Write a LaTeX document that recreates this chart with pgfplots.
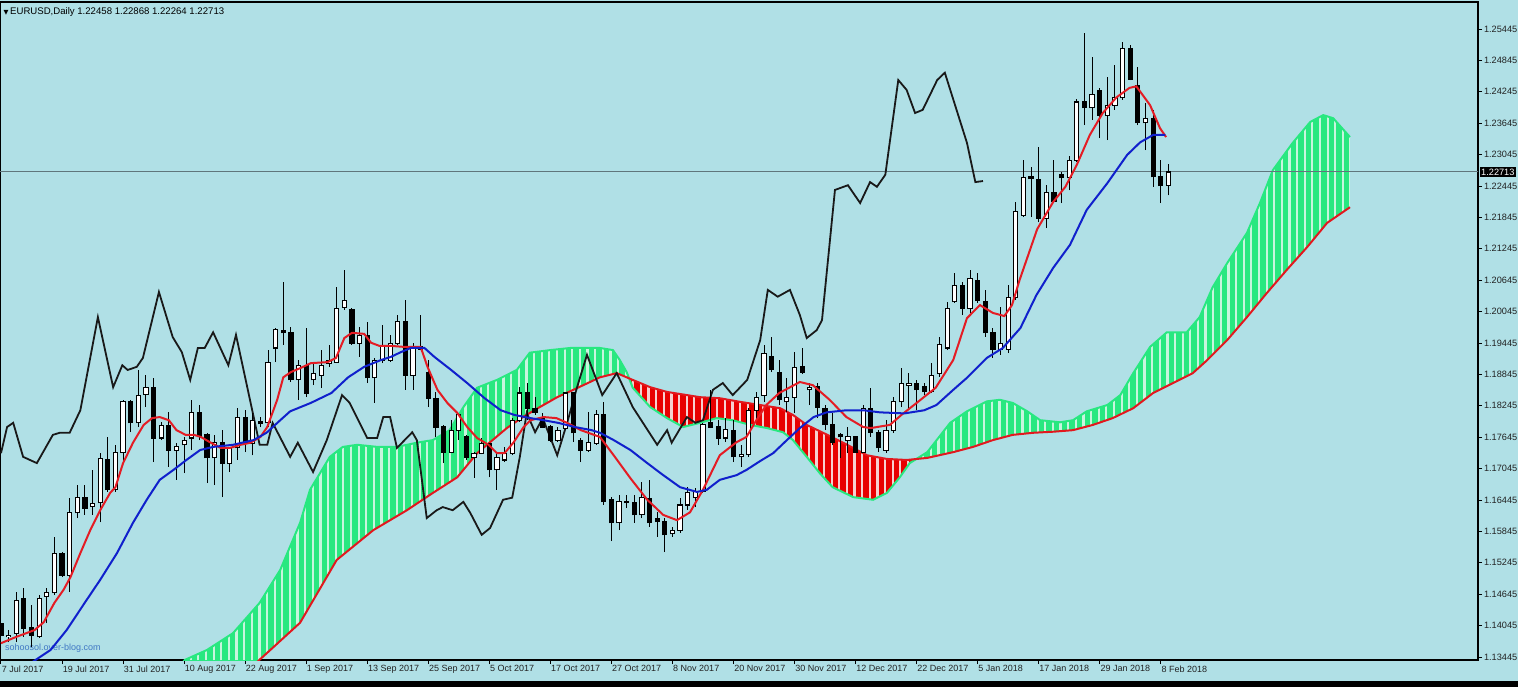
\documentclass[border=0pt]{standalone}
\usepackage{pgfplots}
\pgfplotsset{compat=1.18}
\usepackage{pgfplotstable}
\usepgfplotslibrary{fillbetween}
\usetikzlibrary{patterns.meta}
\usepackage{fontspec}
\setmainfont{Liberation Sans}
\newfontfamily\symfont{DejaVu Sans}

\definecolor{bgblue}{RGB}{176,224,230}
\definecolor{tenkan}{RGB}{228,28,36}
\definecolor{kijun}{RGB}{16,32,204}
\definecolor{kumogreen}{RGB}{40,232,128}
\definecolor{kumogreenpale}{RGB}{200,245,222}
\definecolor{kumored}{RGB}{232,0,0}
\definecolor{kumoredpale}{RGB}{246,208,208}
\definecolor{spanb}{RGB}{226,24,30}
\definecolor{priceline}{RGB}{96,118,124}
\definecolor{labelgray}{RGB}{34,34,34}
\definecolor{wmblue}{RGB}{64,120,196}
\pagecolor{bgblue}

% daily candles, bar 0 = 7 Jul 2017
\pgfplotstableread{
i O H L C
0 1.1409 1.1459 1.1377 1.1386
1 1.1383 1.1396 1.1373 1.1386
2 1.1390 1.1469 1.1373 1.1453
3 1.1457 1.1476 1.1383 1.1400
4 1.1400 1.1444 1.1364 1.1386
5 1.1383 1.1463 1.1381 1.1457
6 1.1461 1.1476 1.1409 1.1467
7 1.1467 1.1574 1.1463 1.1543
8 1.1543 1.1545 1.1497 1.1501
9 1.1501 1.1648 1.1469 1.1620
10 1.1620 1.1673 1.1610 1.1650
11 1.1650 1.1673 1.1616 1.1629
12 1.1633 1.1702 1.1616 1.1637
13 1.1639 1.1734 1.1602 1.1723
14 1.1721 1.1765 1.1660 1.1664
15 1.1664 1.1750 1.1660 1.1736
16 1.1736 1.1836 1.1715 1.1832
17 1.1832 1.1836 1.1774 1.1792
18 1.1792 1.1893 1.1784 1.1845
19 1.1847 1.1883 1.1822 1.1859
20 1.1859 1.1878 1.1717 1.1763
21 1.1763 1.1794 1.1759 1.1786
22 1.1786 1.1813 1.1708 1.1740
23 1.1740 1.1753 1.1683 1.1746
24 1.1750 1.1765 1.1696 1.1759
25 1.1763 1.1836 1.1740 1.1811
26 1.1811 1.1826 1.1759 1.1765
27 1.1769 1.1773 1.1677 1.1725
28 1.1725 1.1769 1.1673 1.1755
29 1.1755 1.1778 1.1650 1.1715
30 1.1715 1.1746 1.1698 1.1744
31 1.1744 1.1820 1.1721 1.1803
32 1.1803 1.1816 1.1736 1.1753
33 1.1753 1.1811 1.1730 1.1797
34 1.1794 1.1803 1.1784 1.1790
35 1.1792 1.1931 1.1784 1.1908
36 1.1935 1.1973 1.1908 1.1971
37 1.1969 1.2061 1.1941 1.1964
38 1.1964 1.1975 1.1870 1.1874
39 1.1874 1.1912 1.1836 1.1901
40 1.1901 1.1973 1.1841 1.1849
41 1.1874 1.1906 1.1864 1.1887
42 1.1883 1.1931 1.1859 1.1902
43 1.1906 1.1941 1.1899 1.1912
44 1.1908 1.2052 1.1906 1.2011
45 1.2013 1.2084 1.2008 1.2025
46 1.2008 1.2011 1.1941 1.1944
47 1.1944 1.1975 1.1918 1.1958
48 1.1958 1.1985 1.1868 1.1878
49 1.1878 1.1916 1.1830 1.1912
50 1.1912 1.1979 1.1906 1.1937
51 1.1912 1.1960 1.1908 1.1944
52 1.1944 1.1998 1.1941 1.1985
53 1.1985 1.2027 1.1855 1.1883
54 1.1883 1.1944 1.1855 1.1935
55 1.1933 1.1998 1.1931 1.1937
56 1.1889 1.1912 1.1822 1.1839
57 1.1839 1.1851 1.1765 1.1784
58 1.1784 1.1788 1.1715 1.1736
59 1.1736 1.1797 1.1734 1.1778
60 1.1778 1.1811 1.1759 1.1807
61 1.1765 1.1769 1.1721 1.1725
62 1.1725 1.1736 1.1687 1.1734
63 1.1734 1.1763 1.1732 1.1752
64 1.1752 1.1753 1.1688 1.1702
65 1.1702 1.1734 1.1664 1.1725
66 1.1721 1.1746 1.1717 1.1734
67 1.1734 1.1801 1.1730 1.1797
68 1.1797 1.1861 1.1794 1.1849
69 1.1849 1.1868 1.1797 1.1820
70 1.1820 1.1841 1.1807 1.1811
71 1.1803 1.1811 1.1782 1.1784
72 1.1784 1.1788 1.1755 1.1759
73 1.1759 1.1784 1.1755 1.1778
74 1.1782 1.1851 1.1778 1.1849
75 1.1849 1.1851 1.1755 1.1773
76 1.1759 1.1763 1.1717 1.1740
77 1.1740 1.1813 1.1736 1.1755
78 1.1753 1.1816 1.1750 1.1807
79 1.1807 1.1832 1.1635 1.1641
80 1.1645 1.1650 1.1566 1.1601
81 1.1601 1.1654 1.1587 1.1641
82 1.1641 1.1654 1.1629 1.1639
83 1.1639 1.1654 1.1601 1.1616
84 1.1616 1.1679 1.1610 1.1650
85 1.1648 1.1683 1.1593 1.1601
86 1.1610 1.1622 1.1574 1.1603
87 1.1603 1.1610 1.1545 1.1578
88 1.1580 1.1593 1.1574 1.1587
89 1.1587 1.1648 1.1582 1.1635
90 1.1635 1.1669 1.1625 1.1658
91 1.1650 1.1667 1.1631 1.1660
92 1.1660 1.1792 1.1658 1.1788
93 1.1792 1.1855 1.1782 1.1784
94 1.1784 1.1797 1.1750 1.1763
95 1.1763 1.1801 1.1755 1.1780
96 1.1778 1.1797 1.1717 1.1727
97 1.1727 1.1750 1.1708 1.1732
98 1.1732 1.1820 1.1727 1.1816
99 1.1816 1.1851 1.1794 1.1841
100 1.1845 1.1941 1.1832 1.1925
101 1.1918 1.1956 1.1889 1.1893
102 1.1889 1.1912 1.1826 1.1836
103 1.1832 1.1878 1.1813 1.1841
104 1.1841 1.1927 1.1811 1.1897
105 1.1899 1.1935 1.1885 1.1889
106 1.1855 1.1868 1.1826 1.1859
107 1.1861 1.1868 1.1801 1.1822
108 1.1820 1.1826 1.1778 1.1788
109 1.1788 1.1811 1.1750 1.1755
110 1.1769 1.1773 1.1725 1.1765
111 1.1759 1.1784 1.1734 1.1765
112 1.1765 1.1767 1.1734 1.1736
113 1.1736 1.1826 1.1734 1.1820
114 1.1820 1.1859 1.1765 1.1774
115 1.1774 1.1778 1.1736 1.1744
116 1.1740 1.1797 1.1734 1.1778
117 1.1778 1.1841 1.1773 1.1832
118 1.1832 1.1897 1.1822 1.1868
119 1.1864 1.1887 1.1816 1.1868
120 1.1868 1.1874 1.1816 1.1855
121 1.1862 1.1868 1.1845 1.1851
122 1.1851 1.1906 1.1849 1.1883
123 1.1887 1.1956 1.1880 1.1941
124 1.1935 1.2023 1.1931 1.2011
125 1.2023 1.2078 1.2021 1.2054
126 1.2054 1.2061 1.1998 1.2011
127 1.2011 1.2084 1.2002 1.2067
128 1.2063 1.2078 1.2021 1.2025
129 1.2023 1.2046 1.1956 1.1964
130 1.1964 1.1973 1.1916 1.1933
131 1.1933 1.2013 1.1922 1.1944
132 1.1933 1.2055 1.1925 1.2031
133 1.2031 1.2214 1.2027 1.2195
134 1.2189 1.2294 1.2185 1.2260
135 1.2262 1.2281 1.2185 1.2258
136 1.2256 1.2319 1.2175 1.2183
137 1.2183 1.2246 1.2164 1.2233
138 1.2233 1.2294 1.2212 1.2214
139 1.2267 1.2271 1.2212 1.2260
140 1.2260 1.2302 1.2236 1.2294
141 1.2294 1.2410 1.2290 1.2405
142 1.2405 1.2537 1.2361 1.2394
143 1.2394 1.2491 1.2371 1.2420
144 1.2426 1.2432 1.2336 1.2380
145 1.2380 1.2453 1.2332 1.2399
146 1.2399 1.2476 1.2390 1.2413
147 1.2413 1.2520 1.2409 1.2508
148 1.2508 1.2514 1.2447 1.2449
149 1.2436 1.2472 1.2361 1.2365
150 1.2365 1.2403 1.2313 1.2374
151 1.2373 1.2390 1.2243 1.2262
152 1.2262 1.2294 1.2212 1.2245
153 1.22458 1.22868 1.22264 1.22713
}\candles

% Tenkan-sen (red)
\pgfplotstableread{
i v
0 1.1371
2 1.1383
4.4 1.1396
5.6 1.1411
7 1.1448
8.2 1.1473
9.1 1.1497
10.4 1.1543
11.7 1.1587
13 1.1625
14.3 1.1658
15 1.1669
16 1.1715
17.3 1.1754
18.7 1.1788
19.8 1.1801
20.8 1.1803
22 1.1797
23 1.1778
24.2 1.1769
25.3 1.1769
26.2 1.1765
27.5 1.1754
28.8 1.1744
30 1.1744
31.4 1.1750
32.7 1.1754
34 1.1765
34.9 1.1784
36.2 1.1836
37 1.1879
38 1.1889
39.3 1.1897
40.6 1.1906
42.8 1.1908
43.9 1.1916
45 1.1954
46 1.1964
47.6 1.1962
48.5 1.1945
49.6 1.1939
51.1 1.1939
52.9 1.1937
55 1.1937
55.9 1.1899
57.2 1.1855
58.5 1.1830
59.8 1.1811
61.1 1.1784
62.4 1.1763
63.9 1.1750
65 1.1734
66 1.1734
67.2 1.1755
68.5 1.1784
69.4 1.1797
71.1 1.1803
72.8 1.1801
74.2 1.1792
76 1.1778
78.5 1.1765
80.3 1.1730
82.5 1.1686
84.7 1.1645
86.8 1.1616
88.6 1.1606
90.3 1.1621
92 1.1664
94.2 1.1730
96.4 1.1755
97.7 1.1765
99 1.1797
100.3 1.1826
102 1.1849
104.7 1.1870
106.4 1.1864
108.6 1.1836
110.8 1.1803
113 1.1784
114 1.1782
116.5 1.1788
118 1.1807
120 1.1830
122.5 1.1859
124.8 1.1912
126.6 1.1992
128.3 1.2017
130 1.2002
131.5 1.1996
132.5 1.2017
133.5 1.2065
135.8 1.2162
137.9 1.2214
139.5 1.2243
141 1.2285
142.7 1.2342
144.4 1.2384
146.2 1.2414
147.9 1.2432
148.8 1.2435
150.6 1.2399
151.9 1.2355
152.7 1.2338
}\tenkan

% Kijun-sen (blue)
\pgfplotstableread{
i v
3 1.1324
6.5 1.1358
8.6 1.1396
11.2 1.1453
13 1.1492
15.2 1.1543
17.3 1.1601
19.1 1.1645
20.8 1.1683
22.6 1.1702
24.3 1.1721
26.1 1.1740
27.8 1.1746
30.4 1.1750
33.1 1.1759
34.8 1.1773
36.6 1.1797
37.9 1.1814
40.6 1.1830
43.3 1.1849
45.5 1.1879
47.6 1.1899
49.8 1.1912
51.1 1.1918
52.4 1.1927
53.7 1.1935
55.5 1.1935
56.8 1.1918
59 1.1893
61.1 1.1868
63.3 1.1840
65.5 1.1816
67.3 1.1807
69.4 1.1801
71.1 1.1797
73 1.1792
75.2 1.1784
77.4 1.1778
78.5 1.1773
80.3 1.1759
82.5 1.1740
84.7 1.1715
86.8 1.1692
89 1.1669
91.2 1.1660
92.5 1.1664
94.2 1.1683
96.4 1.1692
97.7 1.1702
99.5 1.1719
101.2 1.1734
103 1.1759
104.7 1.1782
106.5 1.1803
108.2 1.1812
110.8 1.1816
113 1.1816
115.2 1.1812
118.4 1.1810
121 1.1816
122.6 1.1826
124.8 1.1855
126.6 1.1878
129.2 1.1916
131.3 1.1935
132.2 1.1950
133.6 1.1973
135.7 1.2036
137.9 1.2088
140.1 1.2132
142.3 1.2199
145 1.2250
147.6 1.2304
149.3 1.2328
151 1.2342
152.6 1.2342
}\kijun

% Senkou span A (green edge of the cloud)
\pgfplotstableread{
i v
22 1.1301
24.1 1.1339
27 1.1358
30.4 1.1390
33.9 1.1448
36.6 1.1511
39.2 1.1601
40.5 1.1664
43.1 1.1727
44.8 1.1746
46.7 1.1750
49.3 1.1746
51.9 1.1746
54.5 1.1754
56.6 1.1759
58.8 1.1778
60.6 1.1822
62.4 1.1859
65 1.1874
67.6 1.1893
69.3 1.1926
72 1.1931
74.6 1.1935
77.2 1.1935
78.5 1.1935
80.2 1.1931
81.1 1.1912
82 1.1889
82.8 1.1859
85.1 1.1822
87.3 1.1801
89.4 1.1784
91.6 1.1792
93.8 1.1801
95.9 1.1797
98.2 1.1788
100.4 1.1782
102.5 1.1774
103.8 1.1759
105.6 1.1727
107.3 1.1696
109 1.1669
111.7 1.1650
114.3 1.1645
116.1 1.1658
117.8 1.1688
119.1 1.1715
121.4 1.1736
124.4 1.1792
126.6 1.1814
129.2 1.1833
130.9 1.1836
132.6 1.1830
134.5 1.1814
136.2 1.1797
138.8 1.1793
140.5 1.1797
142.3 1.1814
145 1.1826
146.7 1.1845
148.4 1.1887
150.6 1.1937
152.8 1.1965
155.4 1.1965
157.1 1.1994
158.8 1.2051
160.7 1.2097
163.3 1.2155
165 1.2212
166.7 1.2275
169.3 1.2327
171.6 1.2367
173.3 1.2380
174.6 1.2374
176.8 1.2338
}\spanA

% Senkou span B (red edge of the cloud)
\pgfplotstableread{
i v
31 1.1301
35.3 1.1358
39.2 1.1410
44 1.1530
48.8 1.1587
53.2 1.1625
56.6 1.1658
59.8 1.1688
62.4 1.1734
64.1 1.1755
66.3 1.1782
68.4 1.1803
70.6 1.1822
72.9 1.1841
75 1.1855
77.2 1.1870
78.5 1.1879
80.7 1.1887
82.8 1.1874
85.1 1.1860
87.3 1.1851
89.9 1.1845
91.6 1.1841
94.2 1.1839
96.9 1.1832
99.5 1.1826
102.1 1.1820
103.8 1.1807
105.6 1.1788
108.3 1.1769
110.9 1.1750
113.5 1.1730
116.1 1.1723
118.7 1.1721
121.4 1.1725
124.8 1.1736
127.4 1.1746
130 1.1759
132.6 1.1769
135.3 1.1773
137.9 1.1775
140.5 1.1778
143.1 1.1788
145.7 1.1801
148.4 1.1820
151 1.1849
153.6 1.1868
156.2 1.1887
158.1 1.1912
160.7 1.1950
163.3 1.1994
165.9 1.2040
168.5 1.2084
171.2 1.2128
173.8 1.2174
175.9 1.2195
176.8 1.2204
}\spanB

% Chikou span (black)
\pgfplotstableread{
i v
0 1.1734
0.8 1.1784
1.6 1.1792
2.9 1.1727
4.7 1.1715
6.8 1.1769
7.7 1.1773
9.0 1.1773
10.4 1.1816
12.7 1.1994
14.7 1.1860
15.9 1.1902
16.6 1.1893
17.8 1.1899
18.6 1.1916
20.7 1.2042
22.5 1.1956
23.7 1.1927
24.8 1.1874
25.8 1.1935
26.7 1.1935
27.8 1.1965
29.8 1.1902
30.8 1.1960
33.0 1.1811
33.9 1.1750
34.9 1.1750
35.6 1.1792
37.9 1.1727
38.9 1.1754
40.9 1.1698
42.7 1.1759
44.7 1.1845
45.7 1.1830
48.0 1.1763
49.3 1.1763
50.1 1.1803
51.0 1.1803
51.9 1.1744
53.9 1.1774
54.5 1.1759
55.8 1.1610
57.1 1.1625
57.9 1.1631
59.2 1.1625
60.6 1.1641
61.5 1.1620
63.0 1.1578
64.1 1.1591
65.8 1.1645
67.0 1.1649
68.0 1.1727
68.9 1.1811
70.0 1.1774
71.0 1.1801
72.9 1.1730
74.2 1.1792
75.5 1.1860
76.8 1.1922
78.8 1.1845
80.7 1.1887
82.8 1.1822
86.0 1.1750
87.3 1.1778
87.9 1.1754
89.9 1.1803
91.0 1.1792
92.0 1.1797
93.3 1.1855
94.6 1.1868
95.9 1.1845
97.8 1.1874
99.5 1.1950
100.5 1.2046
101.8 1.2033
103.4 1.2046
104.7 1.1998
105.6 1.1954
106.9 1.1969
107.6 1.1988
109.3 1.2237
111.0 1.2246
112.6 1.2212
113.9 1.2252
114.8 1.2243
115.9 1.2266
117.6 1.2447
118.7 1.2428
119.8 1.2384
120.8 1.2390
122.7 1.2447
123.7 1.2461
126.6 1.2327
127.7 1.2252
128.7 1.2254
}\chikou

\begin{document}
\begin{tikzpicture}
\fill[black] (0,0) rectangle (759pt,3pt);
\begin{axis}[
  at={(0pt,13.5pt)}, anchor=south west,
  scale only axis, width=739pt, height=329pt,
  xmin=-0.13, xmax=193.58, ymin=1.13388, ymax=1.25961,
  axis background/.style={fill=bgblue},
  axis line style={draw=black, line width=0.6pt},
  clip mode=individual,
  tick align=outside, major tick length=2pt,
  major tick style={black, line width=0.5pt},
  xtick pos=bottom, ytick pos=right, yticklabel pos=right,
  xtick={0,8,...,152},
  xticklabels={7 Jul 2017,19 Jul 2017,31 Jul 2017,10 Aug 2017,22 Aug 2017,1 Sep 2017,13 Sep 2017,25 Sep 2017,5 Oct 2017,17 Oct 2017,27 Oct 2017,8 Nov 2017,20 Nov 2017,30 Nov 2017,12 Dec 2017,22 Dec 2017,5 Jan 2018,17 Jan 2018,29 Jan 2018,8 Feb 2018},
  xticklabel style={anchor=north west, inner sep=0pt, xshift=0.2pt, yshift=-0.6pt, text=labelgray, font=\fontsize{4.5}{5}\selectfont},
  ytick={1.13445,1.14045,1.14645,1.15245,1.15845,1.16445,1.17045,1.17645,1.18245,1.18845,1.19445,1.20045,1.20645,1.21245,1.21845,1.22445,1.23045,1.23645,1.24245,1.24845,1.25445},
  yticklabels={1.13445,1.14045,1.14645,1.15245,1.15845,1.16445,1.17045,1.17645,1.18245,1.18845,1.19445,1.20045,1.20645,1.21245,1.21845,1.22445,1.23045,1.23645,1.24245,1.24845,1.25445},
  yticklabel style={anchor=west, inner sep=0pt, xshift=0.8pt, text=labelgray, font=\fontsize{4.6}{5}\selectfont},
]

% header and watermark
\node[anchor=west, inner sep=0pt, font=\fontsize{4.8}{5}\selectfont] at (axis cs:0.3,1.2577)
  {{\symfont\fontsize{3.2}{4}\selectfont ▼}\,EURUSD,Daily 1.22458 1.22868 1.22264 1.22713};
\node[anchor=west, inner sep=0pt, text=wmblue, font=\fontsize{4.5}{5}\selectfont] at (axis cs:0.5,1.1362)
  {sohoosol.over-blog.com};

% cloud
\addplot[draw=none, name path=A, forget plot] table[x=i, y=v] {\spanA};
\addplot[draw=none, name path=B, forget plot] table[x=i, y=v] {\spanB};
\addplot[fill=kumogreen, draw=none] fill between[of=A and B, soft clip={domain=20:82.3}];
\addplot[draw=none, pattern={Lines[angle=90, distance=3.815pt, line width=1.1pt]}, pattern color=kumogreenpale] fill between[of=A and B, soft clip={domain=20:82.3}];
\addplot[fill=kumored, draw=none] fill between[of=A and B, soft clip={domain=82.3:120.3}];
\addplot[draw=none, pattern={Lines[angle=90, distance=3.815pt, line width=1.1pt]}, pattern color=kumoredpale] fill between[of=A and B, soft clip={domain=82.3:120.3}];
\addplot[fill=kumogreen, draw=none] fill between[of=A and B, soft clip={domain=120.3:178}];
\addplot[draw=none, pattern={Lines[angle=90, distance=3.815pt, line width=1.1pt]}, pattern color=kumogreenpale] fill between[of=A and B, soft clip={domain=120.3:178}];
\addplot[kumogreen, line width=1pt] table[x=i, y=v] {\spanA};
\addplot[spanb, line width=1pt] table[x=i, y=v] {\spanB};

% current price
\addplot[priceline, line width=0.5pt] coordinates {(-1,1.22713) (195,1.22713)};

% chikou
\addplot[black!90, line width=0.9pt] table[x=i, y=v] {\chikou};

% candles: wicks, bodies, hollow bull bodies (vertical quiver segments)
\addplot[black, line width=0.5pt, mark=none, forget plot,
  quiver={u=0, v={\thisrow{H}-\thisrow{L}}}]
  table[x=i, y=L] {\candles};
\addplot[black, line width=2.6pt, mark=none, forget plot,
  quiver={u=0, v={abs(\thisrow{C}-\thisrow{O})+0.0002}}]
  table[x=i, y expr={min(\thisrow{O},\thisrow{C})-0.0001}] {\candles};
\addplot[white, line width=1.6pt, mark=none, forget plot,
  quiver={u=0, v={max(\thisrow{C}-\thisrow{O}-0.0002,0)}}]
  table[x=i, y expr={\thisrow{O}+0.0001}] {\candles};

% tenkan and kijun
\addplot[tenkan, line width=1pt] table[x=i, y=v] {\tenkan};
\addplot[kijun, line width=1pt] table[x=i, y=v] {\kijun};

% last price tag
\node[anchor=west, fill=black, text=white, inner xsep=0.8pt, inner ysep=0.7pt, xshift=0.6pt, font=\fontsize{4.6}{5}\selectfont] at (axis cs:193.58,1.22713) {1.22713};
\end{axis}
\pgfresetboundingbox
\useasboundingbox (0,0) rectangle (759pt,343.5pt);
\end{tikzpicture}
\end{document}
